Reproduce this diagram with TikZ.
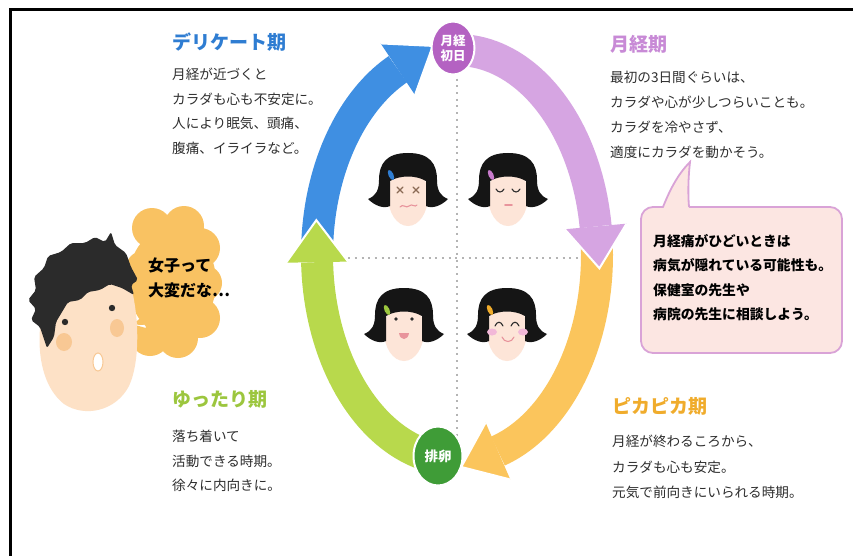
\documentclass[tikz,border=0pt]{standalone}
\usepackage{fontspec}
\setmainfont{Noto Sans CJK JP}
\usetikzlibrary{calc,shapes.geometric}

\definecolor{txt}{HTML}{2E2E2E}
\definecolor{bluearc}{HTML}{3F8FE2}
\definecolor{bluehead}{HTML}{2F7DD2}
\definecolor{purplearc}{HTML}{D6A5E2}
\definecolor{purplehead}{HTML}{C88AD6}
\definecolor{purplebadge}{HTML}{B462C2}
\definecolor{yellowarc}{HTML}{FBC55C}
\definecolor{yellowhead}{HTML}{F0AC2C}
\definecolor{greenarc}{HTML}{B8D94C}
\definecolor{greenhead}{HTML}{9CC63E}
\definecolor{greenbadge}{HTML}{3F9C37}
\definecolor{notefill}{HTML}{FCE6E2}
\definecolor{noteline}{HTML}{D9A3D7}
\definecolor{cloudfill}{HTML}{F9C262}
\definecolor{boyskin}{HTML}{FDE1C6}
\definecolor{boyhair}{HTML}{2B2B2B}
\definecolor{boycheek}{HTML}{F8C894}
\definecolor{girlskin}{HTML}{FDE5D8}
\definecolor{girlhair}{HTML}{151515}
\definecolor{dotgrey}{HTML}{B4B4B4}
\definecolor{eyebrown}{HTML}{8A6A55}
\definecolor{mouthpink}{HTML}{E8949C}
\definecolor{cheekpink}{HTML}{F2B8D8}
\definecolor{clipblue}{HTML}{2F7DD2}
\definecolor{clippink}{HTML}{C87ACB}
\definecolor{clipgreen}{HTML}{9CC63E}
\definecolor{cliporange}{HTML}{F0AC2C}

\tikzset{
  heading/.style={anchor=north west, inner sep=0pt, font=\bfseries\fontsize{19}{22}\selectfont},
  bodytext/.style={anchor=north west, inner sep=0pt, align=left, text=txt, font=\fontsize{13.6}{24.5}\selectfont},
  notetext/.style={anchor=north west, inner sep=0pt, align=left, text=black, font=\bfseries\fontsize{13.8}{24.5}\selectfont},
  badge/.style={ellipse, draw=white, line width=2pt, text=white, align=center, inner sep=0pt},
  guide/.style={dotgrey, line width=2pt, dash pattern=on 2pt off 4.7pt},
  pics/girlhead/.style={code={
    \fill[girlskin] (0,6) ellipse[x radius=20, y radius=30];
    \fill[girlhair] (0,-37) .. controls (-22,-37) and (-29,-26) .. (-29,-10)
      .. controls (-29,0) and (-32,6) .. (-40,9)
      .. controls (-33,16) and (-24,19) .. (-18,16)
      -- (-18,-9)
      .. controls (-8,-15) and (8,-15) .. (18,-9)
      -- (18,16)
      .. controls (24,19) and (33,16) .. (40,9)
      .. controls (32,6) and (29,0) .. (29,-10)
      .. controls (29,-26) and (22,-37) .. (0,-37) -- cycle;
    \fill[#1, rotate around={25:(-17,-15)}] (-17,-15) ellipse[x radius=2.5, y radius=5.5];
  }}
}

% thick elliptic band of the cycle
\newcommand{\cycleband}[3]{%
  \draw[#1, line width=32pt, line join=round]
    plot[domain=#2:#3, samples=40, variable=\t] ({457+140*cos(\t)}, {255+205*sin(\t)});
}
% triangular head at the end of a band
\newcommand{\cyclehead}[3]{%
  \coordinate (hb) at ({457+140*cos(#2)}, {255+205*sin(#2)});
  \coordinate (hn) at ({457+140*cos(#2+1)}, {255+205*sin(#2+1)});
  \coordinate (ht) at ($(hb)!#3!(hn)$);
  \coordinate (hl) at ($(hb)!31pt!90:(hn)$);
  \coordinate (hr) at ($(hb)!31pt!-90:(hn)$);
  \fill[#1] (hl) -- (ht) -- (hr) -- cycle;
  \draw[white, line width=2pt] (hl) -- (ht) -- (hr);
}

\begin{document}
\begin{tikzpicture}[x=1pt, y=-1pt]
\useasboundingbox (0,0) rectangle (853,556);
\fill[white] (0,0) rectangle (853,556);

% frame
\draw[black, line width=2.5pt] (10.3,556) -- (10.3,9.5) -- (853,9.5);

% quadrant guides
\draw[guide] (457,72) -- (457,440);
\draw[guide] (328,258) -- (588,258);

% cycle bands
\cycleband{purplearc}{-86}{-8}
\cycleband{yellowarc}{-4}{73}
\cycleband{greenarc}{100}{178}
\cycleband{bluearc}{182}{245}
% cycle heads
\cyclehead{purplearc}{-8}{42pt}
\cyclehead{yellowarc}{73}{40pt}
\cyclehead{greenarc}{178}{42pt}
\cyclehead{bluearc}{245}{42pt}

% badges
\node[badge, fill=purplebadge, minimum width=43pt, minimum height=53pt,
      font=\bfseries\fontsize{12.5}{15}\selectfont] (firstday) at (453,48) {月経\\初日};
\node[badge, fill=greenbadge, minimum width=49pt, minimum height=59pt,
      font=\bfseries\fontsize{13.5}{15}\selectfont] (ovulation) at (438,456) {排卵};

% four girls
\pic (gtl) at (408,190) {girlhead=clipblue};
\pic (gtr) at (508,190) {girlhead=clippink};
\pic (gbl) at (404,325) {girlhead=clipgreen};
\pic (gbr) at (507,325) {girlhead=cliporange};

\begin{scope}[shift={(408,190)}, line width=1.1pt, line cap=round]
  \draw[eyebrown] (-11,-3) -- (-5,3) (-11,3) -- (-5,-3);
  \draw[eyebrown] (5,-3) -- (11,3) (5,3) -- (11,-3);
  \draw[mouthpink] (-8,17) .. controls (-5,13) and (-2,19) .. (1,16) .. controls (4,13) and (7,18) .. (9,15);
\end{scope}
\begin{scope}[shift={(508,190)}, line width=1.1pt, line cap=round]
  \draw[boyhair] (-12,-1) .. controls (-10,3) and (-6,3) .. (-4,-1);
  \draw[boyhair] (4,-1) .. controls (6,3) and (10,3) .. (12,-1);
  \draw[mouthpink, line width=1.6pt] (-3,15) -- (4,15);
\end{scope}
\begin{scope}[shift={(404,325)}, line width=1.1pt, line cap=round]
  \fill[boyhair] (-8,-6) circle[radius=1.8] (8,-6) circle[radius=1.8];
  \fill[mouthpink] (-5,8) .. controls (-4,16) and (4,16) .. (5,8) -- cycle;
\end{scope}
\begin{scope}[shift={(507,325)}, line width=1.1pt, line cap=round]
  \fill[cheekpink] (-15,7) ellipse[x radius=5, y radius=3.5] (16,7) ellipse[x radius=5, y radius=3.5];
  \draw[boyhair] (-12,1) .. controls (-10,-4) and (-6,-4) .. (-4,1);
  \draw[boyhair] (4,1) .. controls (6,-4) and (10,-4) .. (12,1);
  \draw[mouthpink] (-5,12) .. controls (-3,18) and (5,18) .. (7,12);
\end{scope}

% thought cloud
\fill[cloudfill] (172,282) ellipse[x radius=44, y radius=55]
  (152,228) circle[radius=20] (184,226) circle[radius=20] (200,248) circle[radius=20]
  (204,283) circle[radius=18] (200,318) circle[radius=20] (178,338) circle[radius=20]
  (150,336) circle[radius=20] (141,310) circle[radius=15] (143,268) circle[radius=17]
  (140,298) -- (124,322) -- (146,328) -- cycle;
\node[anchor=north west, inner sep=0pt, align=left, text=black,
      font=\bfseries\fontsize{16}{25}\selectfont] (thought) at (148,258) {女子って\\大変だな…};

% boy
\fill[boyskin] (48,290) .. controls (34,330) and (36,382) .. (64,404)
  .. controls (85,418) and (116,411) .. (129,386)
  .. controls (141,360) and (139,310) .. (129,280)
  .. controls (115,255) and (63,255) .. (48,290) -- cycle;
\fill[boycheek] (64,342) ellipse[x radius=8, y radius=9] (117,328) ellipse[x radius=7, y radius=9];
\fill[boyhair] (65,322) circle[radius=3.2] (112,308) circle[radius=3.2];
\filldraw[fill=white, draw=boycheek, line width=1pt] (98,362) ellipse[x radius=5, y radius=9];
\fill[boyhair, rounded corners=2pt] (47,348) -- (40,327) -- (31,320) -- (36,309) -- (28,300)
  -- (36,290) -- (34,277) -- (44,268) -- (48,256) -- (61,252) -- (71,243) -- (85,243)
  -- (95,237) -- (105,242) -- (111,232) -- (115,245) -- (126,253) -- (131,267)
  -- (138,280) -- (131,285) -- (134,295) -- (122,288) -- (110,284) -- (100,290)
  -- (88,292) -- (80,300) -- (68,302) -- (62,312) -- (56,322) -- (54,337) -- cycle;

% note box with tail
\filldraw[fill=notefill, draw=noteline, line width=1.8pt, rounded corners=12pt]
  (641,207) rectangle (842,353);
\fill[notefill] (663,209.5) .. controls (669,192) and (677,175) .. (690,162)
  .. controls (688,180) and (688,195) .. (689,209.5) -- cycle;
\draw[noteline, line width=1.8pt] (663,207) .. controls (669,192) and (677,175) .. (690,162)
  .. controls (688,180) and (688,195) .. (689,207);
\node[notetext] (note) at (653,234) {月経痛がひどいときは\\病気が隠れている可能性も。\\保健室の先生や\\病院の先生に相談しよう。};

% phase texts
\node[heading, text=bluehead] (delicate) at (172,32.5) {デリケート期};
\node[bodytext] (delicatetext) at (172,68.2) {月経が近づくと\\カラダも心も不安定に。\\人により眠気、頭痛、\\腹痛、イライラなど。};

\node[heading, text=purplehead] (menses) at (610,35.5) {月経期};
\node[bodytext, font=\fontsize{13.6}{25}\selectfont] (mensestext) at (610,71.2) {最初の3日間ぐらいは、\\カラダや心が少しつらいことも。\\カラダを冷やさず、\\適度にカラダを動かそう。};

\node[heading, text=greenhead] (relaxed) at (172,390.5) {ゆったり期};
\node[bodytext] (relaxedtext) at (172,430.2) {落ち着いて\\活動できる時期。\\徐々に内向きに。};

\node[heading, text=yellowhead] (shiny) at (612,397) {ピカピカ期};
\node[bodytext, font=\fontsize{13.6}{25.5}\selectfont] (shinytext) at (612,435) {月経が終わるころから、\\カラダも心も安定。\\元気で前向きにいられる時期。};
\end{tikzpicture}
\end{document}
